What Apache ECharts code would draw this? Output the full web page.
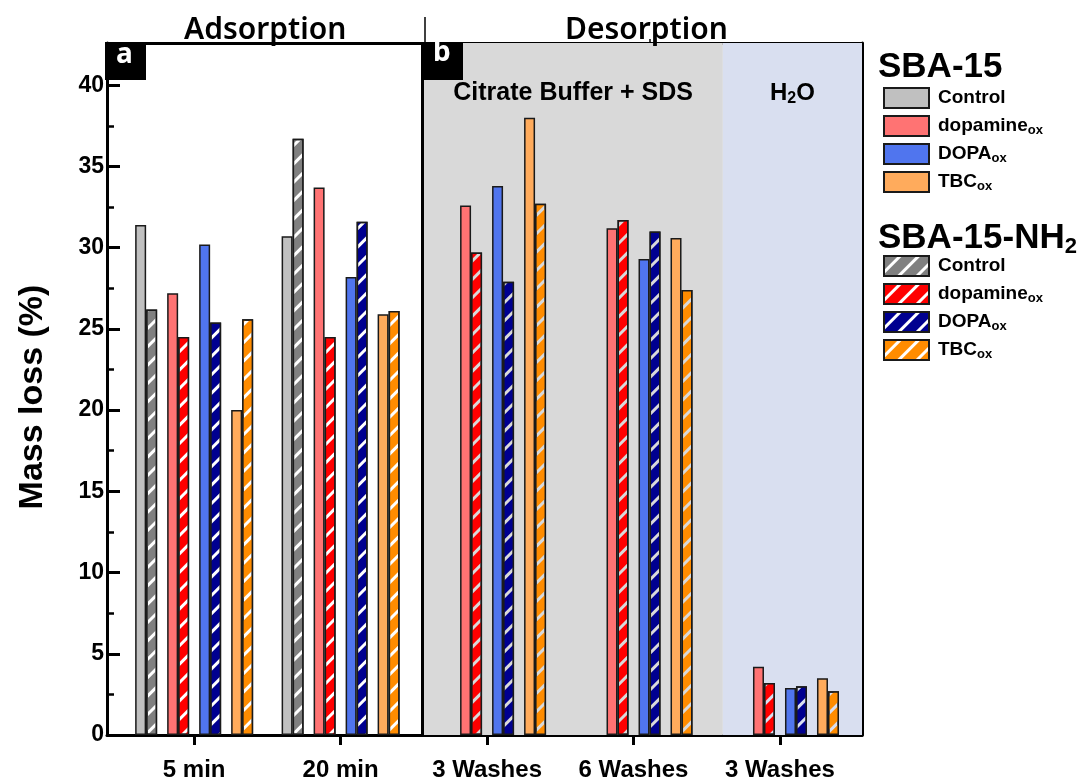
<!DOCTYPE html>
<html>
<head>
<meta charset="utf-8">
<script src="https://cdn.jsdelivr.net/npm/echarts@6/dist/echarts.min.js"></script>
<style>
html,body{margin:0;padding:0;background:#fff;}
#chart{width:1083px;height:782px;}
</style>
</head>
<body>
<div id="chart"></div>
<script>
// ---------------- data ----------------
const categories = ['5 min', '20 min', '3 Washes', '6 Washes', '3 Washes'];
const materials = ['Control', 'dopamine', 'DOPA', 'TBC'];
const materialSub = ['', 'ox', 'ox', 'ox'];
const groupTitles = ['SBA-15', 'SBA-15-NH2'];
const yTicks = [0, 5, 10, 15, 20, 25, 30, 35, 40];

const sba15Control  = [31.4, 30.7, null, null, null];
const sba15Dopamine = [27.2, 33.7, 32.6, 31.2, 4.2];
const sba15Dopa     = [30.2, 28.2, 33.8, 29.3, 2.9];
const sba15Tbc      = [20.0, 25.9, 38.0, 30.6, 3.5];

const nh2Control  = [26.2, 36.7, null, null, null];
const nh2Dopamine = [24.5, 24.5, 29.7, 31.7, 3.2];
const nh2Dopa     = [25.4, 31.6, 27.9, 31.0, 3.0];
const nh2Tbc      = [25.6, 26.1, 32.7, 27.4, 2.7];

// ---------------- styling / layout ----------------
const FONT = '"Liberation Sans", Arial, sans-serif';
const FONT2 = '"Noto Sans", sans-serif';
const solidColors = ['#c0c0c0', '#ff7373', '#5075ee', '#ffab5c'];
const hatchColors = ['#808080', '#ff0000', '#000090', '#ff8c00'];
const X_MIN = 0.405, X_MAX = 5.56;
const GRID = {left: 107, top: 43, right: 221, bottom: 45};
const gridW = 1083 - GRID.left - GRID.right;
const pxPerUnit = gridW / (X_MAX - X_MIN);
const BAR_W = 11, PAIR_STEP = 32;
const DIV_AB = 2.565;   // panel a | b boundary (x units)
const DIV_H2O = 4.61;   // citrate | H2O boundary
const Y_MAX = 42.6;

function offset(p, j) {
  return ((p - 1.5) * PAIR_STEP + (j - 0.5) * BAR_W) / pxPerUnit;
}
function toData(vals, p, j) {
  const out = [];
  vals.forEach((v, i) => { if (v != null) out.push([i + 1 + offset(p, j), v]); });
  return out;
}

const solidData = [sba15Control, sba15Dopamine, sba15Dopa, sba15Tbc];
const hatchData = [nh2Control, nh2Dopamine, nh2Dopa, nh2Tbc];

const series = [];
// background panels + divider
series.push({
  type: 'line', name: '__bg', data: [], z: 0, silent: true,
  markArea: {
    silent: true,
    data: [
      [{xAxis: DIV_AB, itemStyle: {color: '#d9d9d9'},
        label: {show: true, position: 'insideTop', distance: 38, formatter: 'Citrate Buffer + SDS',
          fontFamily: FONT, fontWeight: 'bold', fontSize: 25, color: '#000'}},
       {xAxis: DIV_H2O}],
      [{xAxis: DIV_H2O, itemStyle: {color: '#d9dff0'},
        label: {show: true, position: 'insideTop', distance: 36, formatter: 'H{s|2}O',
          fontFamily: FONT, fontWeight: 'bold', fontSize: 24, color: '#000',
          rich: {s: {fontFamily: FONT, fontWeight: 'bold', fontSize: 16, padding: [12, 0, 0, 0]}}}},
       {xAxis: X_MAX}]
    ]
  },
  markLine: {
    silent: true, symbol: 'none', label: {show: false},
    lineStyle: {color: '#000', width: 3, type: 'solid'},
    data: [{xAxis: DIV_AB}]
  }
});

materials.forEach((m, p) => {
  series.push({
    type: 'bar', name: groupTitles[0] + '|' + p,
    data: toData(solidData[p], p, 0),
    barWidth: BAR_W, barGap: '-100%', z: 3,
    itemStyle: {color: solidColors[p], borderColor: '#1a1a1a', borderWidth: 1.5}
  });
  series.push({
    type: 'bar', name: groupTitles[1] + '|' + p,
    data: toData(hatchData[p], p, 1),
    barWidth: BAR_W, barGap: '-100%', z: 3,
    itemStyle: {
      color: 'rgba(0,0,0,0)', borderColor: '#1a1a1a', borderWidth: 1.5,
      decal: {symbol: 'rect', symbolSize: 1, dashArrayX: [1, 0], dashArrayY: [10, 3],
              rotation: -Math.PI / 4, color: hatchColors[p]}
    }
  });
});

function legendFormatter(name) {
  const p = +name.split('|')[1];
  return materialSub[p] ? materials[p] + '{s|' + materialSub[p] + '}' : materials[p];
}
const legendText = {
  fontFamily: FONT, fontWeight: 'bold', fontSize: 19, color: '#000', padding: [0, 0, 0, 4],
  rich: {s: {fontFamily: FONT, fontWeight: 'bold', fontSize: 13, padding: [9, 0, 0, 0]}}
};
function makeLegend(g, top) {
  return {
    data: materials.map((m, p) => groupTitles[g] + '|' + p),
    left: 883, top: top, padding: 0, orient: 'vertical', itemWidth: 45, itemHeight: 20, itemGap: 6,
    selectedMode: false, formatter: legendFormatter, textStyle: legendText,
    icon: 'rect'
  };
}

const option = {
  animation: false,
  backgroundColor: '#fff',
  grid: {left: GRID.left, top: GRID.top, right: GRID.right, bottom: GRID.bottom, containLabel: false},
  legend: [makeLegend(0, 87), makeLegend(1, 255)],
  xAxis: [{
    type: 'value', min: X_MIN, max: X_MAX, position: 'bottom',
    axisLine: {show: true, onZero: false, lineStyle: {color: '#000', width: 3}},
    axisTick: {show: true, inside: false, length: 10, lineStyle: {color: '#000', width: 3},
               customValues: [1, 2, 3, 4, 5]},
    axisLabel: {show: true, customValues: [1, 2, 3, 4, 5], margin: 23,
                formatter: v => categories[Math.round(v) - 1],
                fontFamily: FONT, fontWeight: 'bold', fontSize: 24, color: '#000'},
    splitLine: {show: false}
  }, {
    type: 'value', min: X_MIN, max: X_MAX, position: 'top',
    axisLine: {show: true, onZero: false, lineStyle: {color: '#000', width: 3}},
    axisTick: {show: false}, axisLabel: {show: false}, splitLine: {show: false}
  }],
  yAxis: [{
    type: 'value', min: 0, max: Y_MAX, interval: 5,
    name: 'Mass loss (%)', nameLocation: 'middle', nameGap: 57,
    nameTextStyle: {fontFamily: FONT, fontWeight: 'bold', fontSize: 34, color: '#000', padding: [0, 16, 0, 0]},
    axisLine: {show: true, onZero: false, lineStyle: {color: '#000', width: 3}},
    axisTick: {show: true, inside: true, length: 13, lineStyle: {color: '#000', width: 3}},
    minorTick: {show: true, splitNumber: 2, length: 7, lineStyle: {color: '#000', width: 2.5}},
    axisLabel: {margin: 3, showMaxLabel: false,
                formatter: v => (yTicks.indexOf(v) >= 0 ? String(v) : ''),
                fontFamily: FONT, fontWeight: 'bold', fontSize: 23, color: '#000'},
    splitLine: {show: false}
  }, {
    type: 'value', min: 0, max: Y_MAX, position: 'right',
    axisLine: {show: true, onZero: false, lineStyle: {color: '#000', width: 3}},
    axisTick: {show: false}, axisLabel: {show: false}, splitLine: {show: false}
  }],
  series: series,
  graphic: [
    {type: 'text', left: 184, top: 15, z: 10,
     style: {text: 'Adsorption', fontFamily: FONT2, fontWeight: 600, fontSize: 30, fill: '#000'}},
    {type: 'text', left: 565, top: 15, z: 10,
     style: {text: 'Desorption', fontFamily: FONT2, fontWeight: 600, fontSize: 30, fill: '#000'}},
    {type: 'line', z: 10, shape: {x1: 425, y1: 17, x2: 425, y2: 43}, style: {stroke: '#000', lineWidth: 1.5}},
    {type: 'line', z: 10, shape: {x1: 274, y1: 39, x2: 274, y2: 43}, style: {stroke: '#000', lineWidth: 1.5}},
    {type: 'line', z: 10, shape: {x1: 650, y1: 39, x2: 650, y2: 43}, style: {stroke: '#000', lineWidth: 1.5}},
    {type: 'rect', z: 10, shape: {x: 105, y: 42, width: 41, height: 38}, style: {fill: '#000'}},
    {type: 'text', z: 11, left: 116, top: 41,
     style: {text: 'a', fontFamily: FONT2, fontWeight: 'bold', fontSize: 28, fill: '#fff'}},
    {type: 'rect', z: 10, shape: {x: 424, y: 42, width: 39, height: 38}, style: {fill: '#000'}},
    {type: 'text', z: 11, left: 433, top: 39,
     style: {text: 'b', fontFamily: FONT2, fontWeight: 'bold', fontSize: 28, fill: '#fff'}},
    {type: 'text', z: 10, left: 878, top: 50,
     style: {text: 'SBA-15', fontFamily: FONT, fontWeight: 'bold', fontSize: 35, fill: '#000'}},
    {type: 'text', z: 10, left: 878, top: 221,
     style: {text: 'SBA-15-NH{s|2}', fontFamily: FONT, fontWeight: 'bold', fontSize: 35, fill: '#000',
             rich: {s: {fontFamily: FONT, fontWeight: 'bold', fontSize: 22, padding: [16, 0, 0, 0]}}}}
  ]
};

const chart = echarts.init(document.getElementById('chart'), null, {renderer: 'canvas'});
chart.setOption(option);
</script>
</body>
</html>
